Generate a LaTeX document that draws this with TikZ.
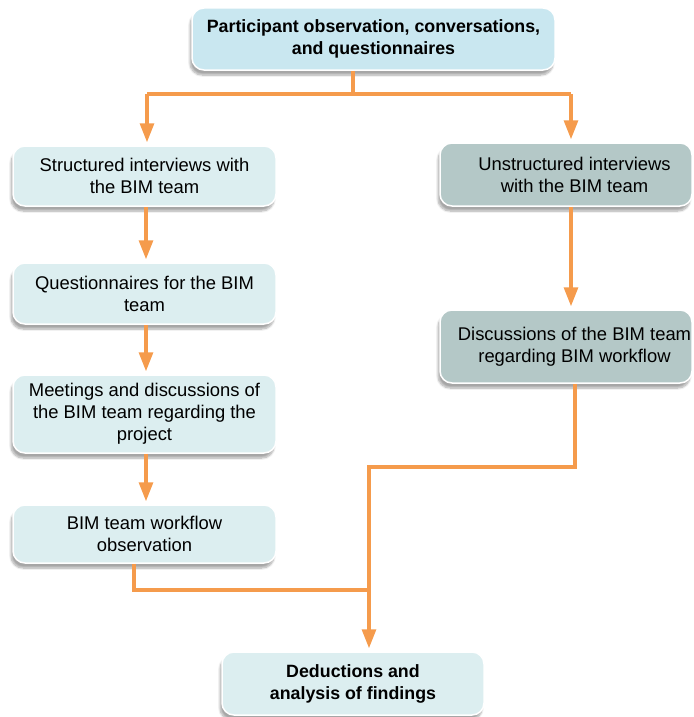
\documentclass[tikz,border=0pt]{standalone}
\usepackage{fontspec}
\setmainfont{Liberation Sans}
\usetikzlibrary{arrows.meta,shadows.blur}

\definecolor{topfill}{HTML}{C9E7F0}
\definecolor{paleFill}{HTML}{DCEEF0}
\definecolor{greyFill}{HTML}{B4C8C7}
\definecolor{flowOrange}{HTML}{F59B4C}

\tikzset{
  box/.style={rectangle, rounded corners=12pt, draw=white, line width=1.5pt,
    align=center, inner sep=0pt,
    font=\fontsize{18.4}{22}\selectfont,
    blur shadow={shadow xshift=-2pt, shadow yshift=-5pt, shadow blur steps=8, shadow opacity=35}},
  topbox/.style={box, fill=topfill, font=\fontsize{17.8}{22}\selectfont\bfseries},
  leftbox/.style={box, fill=paleFill, minimum width=263pt},
  rightbox/.style={box, fill=greyFill, minimum width=252pt},
  endbox/.style={box, fill=paleFill, font=\fontsize{17.8}{22}\selectfont\bfseries},
  link/.style={draw=flowOrange, line width=3.2pt},
  arrowlink/.style={link, -{Triangle[width=14pt,length=19pt]}, shorten >=3pt},
}

\begin{document}
\begin{tikzpicture}[x=1pt, y=-1pt]
\useasboundingbox (0,0) rectangle (693,717);

% boxes
\node[topbox, minimum width=363pt, minimum height=62pt] (src) at (373.5,39)
  {Participant observation, conversations,\\and questionnaires};

\node[leftbox, minimum height=60pt] (l1) at (144.5,176)
  {Structured interviews with\\the BIM team};
\node[leftbox, minimum height=61pt] (l2) at (144.5,293.5)
  {Questionnaires for the BIM\\team};
\node[leftbox, minimum height=78pt] (l3) at (144.5,414)
  {Meetings and discussions of\\the BIM team regarding the\\project};
\node[leftbox, minimum height=58pt] (l4) at (144.5,534)
  {BIM team workflow\\observation};

\node[rightbox, minimum height=63pt] (r1) at (566,174.5)
  {\hspace*{17pt}Unstructured interviews\\\hspace*{17pt}with the BIM team};
\node[rightbox, minimum height=73pt] (r2) at (566,346.5)
  {\hspace*{17pt}Discussions of the BIM team\\\hspace*{17pt}regarding BIM workflow};

\node[endbox, minimum width=262pt, minimum height=63pt] (res) at (353,683.5)
  {Deductions and\\analysis of findings};

% junction points
\coordinate (split) at (353,94);
\coordinate (splitL) at (147,94);
\coordinate (splitR) at (571,94);
\coordinate (joinL) at (134,590);
\coordinate (joinR) at (575,467);
\coordinate (mergeR) at (369,467);
\coordinate (mergeL) at (369,590);

% split from the source
\draw[link] (src.south -| split) -- (split);
\draw[link] (splitL) -- (splitR);
\draw[arrowlink] (splitL) -- (splitL |- l1.north);
\draw[arrowlink] (splitR) -- (splitR |- r1.north);

% left column
\draw[arrowlink] ([xshift=1.5pt]l1.south) -- ([xshift=1.5pt]l2.north);
\draw[arrowlink] ([xshift=1.5pt]l2.south) -- ([xshift=1.5pt]l3.north);
\draw[arrowlink] ([xshift=1.5pt]l3.south) -- ([xshift=1.5pt]l4.north);

% right column
\draw[arrowlink] (r1.south -| splitR) -- (r2.north -| splitR);

% merge into the result
\draw[link] (l4.south -| joinL) -- (joinL) -- (mergeL);
\draw[link] (r2.south -| joinR) -- (joinR) -- (mergeR) -- (mergeL);
\draw[arrowlink] (mergeL) -- (res.north -| mergeL);
\end{tikzpicture}
\end{document}
